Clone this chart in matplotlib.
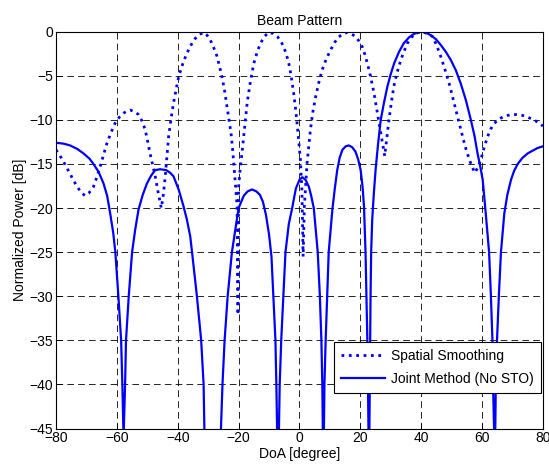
import numpy as np
import matplotlib
matplotlib.use("Agg")
from matplotlib import pyplot as plt

# Spatial Smoothing (dotted)
ss_doa = [-80, -78.8, -77.6, -76.5, -75.4, -74.2, -73, -71.8, -70.5, -69.2, -67.7,
          -66.6, -65.5, -64.4, -63.3, -62, -60.6, -59.2, -57.8, -56.7, -55.6, -54.3,
          -52.9, -51.8, -50.7, -49.9, -49.1, -48.2, -47.4, -46.4, -45.4, -44.7, -44.1,
          -43.5, -43, -42.2, -41.4, -40.5, -39.7, -38.3, -37, -35.6, -34.2, -32.8,
          -31.5, -30.4, -29.3, -28.2, -27.1, -26.3, -25.5, -24.6, -23.8, -23.1, -22.5,
          -22.0, -21.6, -21.0, -20.5, -20.2, -20.0, -19.5, -18.9, -18, -17.2, -16.1,
          -15, -13.9, -12.8, -11.4, -10.1, -8.7, -7.3, -6.2, -5.2, -4.3, -3.5, -2.7,
          -1.9, -1.2, -0.6, 0.3, 0.8, 1.2, 1.6, 2.5, 3.6, 4.4, 5.3, 6.4, 7.5, 8.8,
          10.2, 11.5, 12.9, 14.3, 15.7, 17, 18.4, 19.5, 20.6, 21.5, 22.3, 23.3, 24.5,
          25.6, 26.7, 27.4, 28.0, 28.7, 29.4, 30.2, 31, 32.1, 33.3, 34.4, 35.5, 36.8,
          38.2, 39.6, 40.9, 42.3, 43.7, 45, 46.4, 47.8, 49.2, 50.3, 51.4, 52.5, 53.6,
          54.7, 55.8, 56.7, 57.6, 58.6, 59.6, 60.7, 61.8, 62.9, 64, 65.6, 67.3, 69.5,
          71.7, 73.3, 75, 77.5, 80]
ss_db = [-13.4, -14.0, -14.7, -15.4, -16.1, -16.9, -17.6, -18.2, -18.6, -18.3, -17.6,
         -16.5, -15.3, -14.0, -12.7, -11.5, -10.4, -9.7, -9.25, -9.0, -8.9, -9.05,
         -9.4, -10.1, -11.1, -12.4, -13.8, -15.2, -16.4, -18.3, -20.0, -18.4, -16.4,
         -14.0, -11.9, -9.9, -8.1, -6.5, -5.1, -3.6, -2.45, -1.5, -0.75, -0.3,
         -0.1, -0.4, -0.95, -1.8, -2.8, -3.9, -5.1, -6.7, -8.5, -10.0, -11.5,
         -13.2, -14.9, -17.5, -19.8, -32.1, -17.6, -15.6, -13.8, -10.8, -8.1, -5.6,
         -3.6, -2.3, -1.3, -0.5, -0.1, -0.2, -0.55, -1.05, -1.7, -2.6, -3.6, -5.1,
         -7.0, -9.0, -11.1, -14.5, -18.0, -25.5, -19.8, -14.9, -11.1, -9.1, -7.4, -5.7, -4.3, -3.1,
         -2.1, -1.25, -0.6, -0.25, -0.1, -0.25, -0.55, -1.05, -1.7, -2.6, -3.6, -5.0, -7.0,
         -9.25, -11.5, -12.9, -14.1, -12.0, -10.0, -8.0, -6.2, -4.6, -3.2, -2.2, -1.3, -0.65,
         -0.2, -0.05, -0.1, -0.25, -0.55, -1.5, -2.8, -4.3, -5.9, -7.4, -8.9, -10.4, -11.9,
         -13.3, -14.5, -15.3, -16.0, -15.4, -14.5, -13.1, -11.9, -11.0, -10.4, -9.9, -9.6, -9.4,
         -9.4, -9.5, -9.7, -10.1, -10.7]

# Joint Method (No STO), solid; -46/-60 mark nulls below the axis floor
jm_doa = [-80, -77.5, -75.4, -73, -71, -69, -67.7, -66, -64.4, -63.2, -62.2, -61.2,
          -60.5, -59.5, -58.6, -58.2, -57.8, -57.3, -57, -56.1, -55, -54, -52.9,
          -51.5, -50.1, -48.7, -47.4, -45.8, -43.8, -42.5, -41.4, -39.7, -38.1, -37,
          -35.9, -35.3, -33.7, -32.3, -31.5, -31.2, -28.5, -25.9, -25.3, -24.6, -23.6,
          -22.2, -21, -20, -18.3, -17, -15.6, -14.2, -13.0, -12.0, -11.0, -10.0, -9.2,
          -8.6, -7.9, -7.6, -7.3, -6.8, -6.5, -6.0, -5.3, -4.6, -3.5, -2.4, -1.2, 0,
          0.9, 2.0, 3.1, 3.9, 4.7, 6.0, 6.7, 7.2, 7.5, 7.7, 8.0, 8.2, 8.6, 9.1, 9.6,
          10.8, 11.6, 12.4, 13.2, 14.1, 15.2, 16.2, 17.3, 18.4, 19.3, 20.1, 20.7, 21.2,
          21.7, 22.0, 22.3, 22.5, 22.7, 22.95, 23.1, 23.2, 23.35, 23.55, 23.9, 24.4,
          25.0, 25.8, 26.7, 27.8, 28.9, 30.0, 31.1, 32.7, 34.3, 36, 37.6, 39.8, 41.5,
          43.1, 44.8, 46.4, 48.1, 49.7, 51.4, 53, 54.7, 56.3, 57.5, 58.5, 59.4, 60.2,
          61.2, 62.3, 62.9, 63.4, 63.6, 64.0, 64.3, 64.5, 64.9, 65.5, 66.2, 67.3, 68.3,
          69.5, 70.5, 71.7, 73.3, 75, 76.6, 78.2, 80]
jm_db = [-12.6, -12.7, -12.9, -13.3, -13.8, -14.4, -15.0, -15.9, -17.2, -18.6, -20.6, -22.8,
         -25, -30, -35, -40, -46, -40, -35, -30, -25, -22.5, -20.2,
         -18.5, -17.2, -16.3, -15.7, -15.6, -15.7, -16.0, -16.4, -17.9, -19.8, -21.3,
         -23.2, -25, -30, -35, -40, -46, -60, -46, -40, -35, -30,
         -25, -22.3, -20, -18.6, -18.1, -17.9, -18.1, -18.5, -19.3, -20.8, -23.0, -25.5,
         -30, -35, -40, -46, -46, -40, -35, -30, -25, -21.8, -20, -17.8, -16.8,
         -16.5, -16.8, -17.6, -18.7, -20, -25, -30, -35, -40, -46, -46, -40, -35, -30, -25,
         -20.2, -17.8, -15.7, -14.3, -13.4, -13.0, -12.9, -13.1, -13.6, -14.5, -15.7, -17.5, -19.8,
         -25, -30, -35, -40, -46, -46, -40, -35, -30, -25, -21.3, -18.5,
         -15.7, -12.8, -10.0, -8.0, -6.2, -4.8, -3.6, -2.3, -1.3, -0.65, -0.26, 0.0, -0.1,
         -0.4, -0.85, -1.5, -2.3, -3.2, -4.4, -5.9, -7.8, -10.0, -11.8, -13.8, -15.3, -16.8,
         -20.6, -25, -30, -35, -40, -46, -46, -40, -35, -30, -25, -20.6, -18.5,
         -16.8, -15.8, -15.0, -14.3, -13.8, -13.5, -13.2, -13.0]

x_ticks = list(range(-80, 81, 20))
y_ticks = list(range(-45, 1, 5))

plt.rcParams['font.family'] = ['Liberation Sans', 'DejaVu Sans']
plt.rcParams['font.size'] = 10

fig = plt.figure(figsize=(5.49, 4.72), dpi=100)
ax = fig.add_axes([0.102, 0.092, 0.887, 0.841])

ax.plot(ss_doa, ss_db, color='#0000ff', linestyle=':', linewidth=2.0,
        label='Spatial Smoothing')
ax.plot(jm_doa, jm_db, color='#0000ff', linestyle='-', linewidth=1.6,
        label='Joint Method (No STO)')

ax.set_xlim(-80, 80)
ax.set_ylim(-45, 0)
ax.set_xticks(x_ticks)
ax.set_yticks(y_ticks)
ax.tick_params(direction='in', length=4, width=0.6, colors='black', labelsize=10, pad=2)
ax.grid(True, color='black', linestyle=(0, (8, 5)), linewidth=0.6)
for s in ax.spines.values():
    s.set_linewidth(0.8)

ax.set_title('Beam Pattern', fontsize=10, pad=5)
ax.set_xlabel('DoA [degree]', fontsize=10, labelpad=1)
ax.set_ylabel('Normalized Power [dB]', fontsize=10, labelpad=2)

leg = ax.legend(loc='lower right', bbox_to_anchor=(0.996, 0.09), fontsize=10,
                fancybox=False, framealpha=1, edgecolor='black',
                handlelength=3.2, borderpad=0.5, labelspacing=0.62,
                handletextpad=0.45, borderaxespad=0)
leg.get_frame().set_linewidth(0.8)

fig.savefig('out.png', dpi=100)
